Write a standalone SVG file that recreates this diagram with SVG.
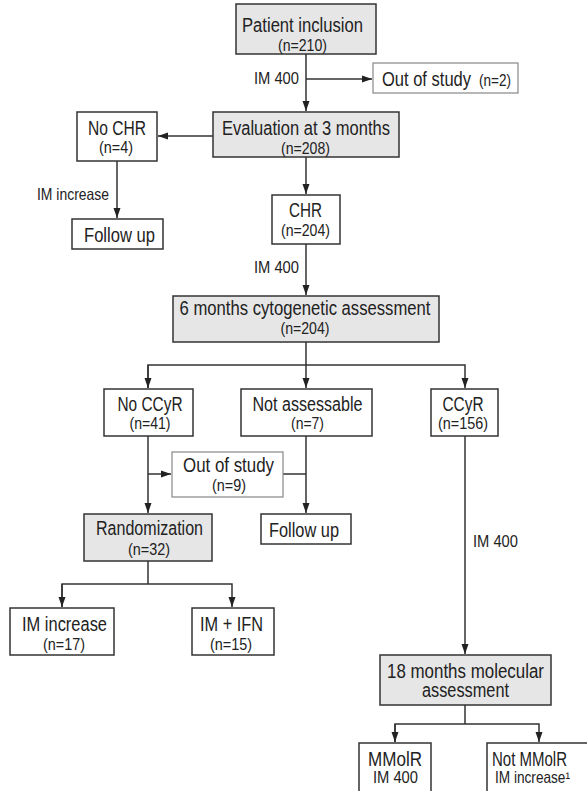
<svg xmlns="http://www.w3.org/2000/svg" width="587" height="791" viewBox="0 0 587 791" text-anchor="middle">
<defs>
<style>
.box{fill:#fff;stroke:#333;stroke-width:1.5}
.gray{fill:#e6e6e6;stroke:#333;stroke-width:1.5}
.light{fill:#fff;stroke:#888;stroke-width:1.2}
text{font-family:"Liberation Sans Narrow","Liberation Sans",Arial,sans-serif;fill:#222}
.big{font-size:20px}
.small{font-size:16.5px}
.lbl{font-size:16.5px}
.c{fill:none;stroke:#333;stroke-width:1.5}
</style>
<marker id="ah" markerUnits="userSpaceOnUse" markerWidth="10" markerHeight="10" viewBox="0 0 10 10" refX="10" refY="5" orient="auto">
<path d="M0,1.5 L10,5 L0,8.5 Z" fill="#222"/>
</marker>
</defs>
<rect width="587" height="791" fill="#fff"/>
<g id="connectors">
<path class="c" d="M306,54 V111" marker-end="url(#ah)"/>
<path class="c" d="M306,79 H372" marker-end="url(#ah)"/>
<path class="c" d="M213,136 H158" marker-end="url(#ah)"/>
<path class="c" d="M117,161 V218" marker-end="url(#ah)"/>
<path class="c" d="M306,157 V194" marker-end="url(#ah)"/>
<path class="c" d="M306,244 V295" marker-end="url(#ah)"/>
<path class="c" d="M306,342 V388" marker-end="url(#ah)"/>
<path class="c" d="M148,388 V365 H465 V388" marker-end="url(#ah)"/>
<path class="c" d="M148,365 V388" marker-end="url(#ah)"/>
<path class="c" d="M148,436 V513" marker-end="url(#ah)"/>
<path class="c" d="M148,474 H171" marker-end="url(#ah)"/>
<path class="c" d="M306,436 V513" marker-end="url(#ah)"/>
<path class="c" d="M283,474 H306"/>
<path class="c" d="M148,561 V584"/>
<path class="c" d="M62,607 V584 H232 V607" marker-end="url(#ah)"/>
<path class="c" d="M62,584 V607" marker-end="url(#ah)"/>
<path class="c" d="M465,436 V654" marker-end="url(#ah)"/>
<path class="c" d="M465,705 V724"/>
<path class="c" d="M395,742 V724 H539 V742" marker-end="url(#ah)"/>
<path class="c" d="M395,724 V742" marker-end="url(#ah)"/>
</g>
<g id="labels">
<text class="lbl" x="299" y="84" text-anchor="end" textLength="45" lengthAdjust="spacingAndGlyphs">IM 400</text>
<text class="lbl" x="109" y="200" text-anchor="end" textLength="72" lengthAdjust="spacingAndGlyphs">IM increase</text>
<text class="lbl" x="299" y="273" text-anchor="end" textLength="45" lengthAdjust="spacingAndGlyphs">IM 400</text>
<text class="lbl" x="473" y="547" text-anchor="start" textLength="45" lengthAdjust="spacingAndGlyphs">IM 400</text>
</g>
<g id="patient-inclusion">
<rect class="gray" x="236" y="4" width="140" height="50"/>
<text class="big" x="302.5" y="32" textLength="121" lengthAdjust="spacingAndGlyphs">Patient inclusion</text>
<text class="small" x="302.5" y="51" textLength="49" lengthAdjust="spacingAndGlyphs">(n=210)</text>
</g>
<g id="out-of-study-1">
<rect class="light" x="373" y="63" width="145" height="30"/>
<text class="big" x="382" y="86" text-anchor="start" textLength="89" lengthAdjust="spacingAndGlyphs">Out of study</text>
<text class="small" x="479" y="86" text-anchor="start" textLength="32" lengthAdjust="spacingAndGlyphs">(n=2)</text>
</g>
<g id="evaluation">
<rect class="gray" x="213" y="112" width="186" height="45"/>
<text class="big" x="306" y="135" textLength="168" lengthAdjust="spacingAndGlyphs">Evaluation at 3 months</text>
<text class="small" x="305.5" y="154" textLength="49" lengthAdjust="spacingAndGlyphs">(n=208)</text>
</g>
<g id="no-chr">
<rect class="box" x="77" y="112" width="80" height="49"/>
<text class="big" x="117" y="135" textLength="58" lengthAdjust="spacingAndGlyphs">No CHR</text>
<text class="small" x="116" y="153" textLength="34" lengthAdjust="spacingAndGlyphs">(n=4)</text>
</g>
<g id="follow-up-1">
<rect class="box" x="72" y="219" width="91" height="30"/>
<text class="big" x="119.5" y="242" textLength="71" lengthAdjust="spacingAndGlyphs">Follow up</text>
</g>
<g id="chr">
<rect class="box" x="272" y="195" width="68" height="49"/>
<text class="big" x="305.5" y="217" textLength="33" lengthAdjust="spacingAndGlyphs">CHR</text>
<text class="small" x="305.5" y="236" textLength="49" lengthAdjust="spacingAndGlyphs">(n=204)</text>
</g>
<g id="six-months">
<rect class="gray" x="173" y="296" width="266" height="46"/>
<text class="big" x="305" y="315" textLength="251" lengthAdjust="spacingAndGlyphs">6 months cytogenetic assessment</text>
<text class="small" x="305" y="334" textLength="49" lengthAdjust="spacingAndGlyphs">(n=204)</text>
</g>
<g id="no-ccyr">
<rect class="box" x="104" y="389" width="89" height="47"/>
<text class="big" x="150" y="411" textLength="65" lengthAdjust="spacingAndGlyphs">No CCyR</text>
<text class="small" x="150" y="429" textLength="41" lengthAdjust="spacingAndGlyphs">(n=41)</text>
</g>
<g id="not-assessable">
<rect class="box" x="241" y="389" width="131" height="47"/>
<text class="big" x="307.5" y="411" textLength="110" lengthAdjust="spacingAndGlyphs">Not assessable</text>
<text class="small" x="307.5" y="429" textLength="33" lengthAdjust="spacingAndGlyphs">(n=7)</text>
</g>
<g id="ccyr">
<rect class="box" x="431" y="389" width="67" height="47"/>
<text class="big" x="463" y="411" textLength="41" lengthAdjust="spacingAndGlyphs">CCyR</text>
<text class="small" x="463" y="429" textLength="50" lengthAdjust="spacingAndGlyphs">(n=156)</text>
</g>
<g id="out-of-study-2">
<rect class="light" x="172" y="452" width="111" height="45"/>
<text class="big" x="228.5" y="472" textLength="91" lengthAdjust="spacingAndGlyphs">Out of study</text>
<text class="small" x="229" y="491" textLength="34" lengthAdjust="spacingAndGlyphs">(n=9)</text>
</g>
<g id="follow-up-2">
<rect class="box" x="261" y="514" width="90" height="30"/>
<text class="big" x="304" y="537" textLength="70" lengthAdjust="spacingAndGlyphs">Follow up</text>
</g>
<g id="randomization">
<rect class="gray" x="84" y="514" width="128" height="47"/>
<text class="big" x="149.5" y="535" textLength="107" lengthAdjust="spacingAndGlyphs">Randomization</text>
<text class="small" x="149" y="555" textLength="42" lengthAdjust="spacingAndGlyphs">(n=32)</text>
</g>
<g id="im-increase">
<rect class="box" x="10" y="608" width="104" height="47"/>
<text class="big" x="64.5" y="631" textLength="85" lengthAdjust="spacingAndGlyphs">IM increase</text>
<text class="small" x="64" y="650" textLength="42" lengthAdjust="spacingAndGlyphs">(n=17)</text>
</g>
<g id="im-ifn">
<rect class="box" x="192" y="608" width="82" height="47"/>
<text class="big" x="231.5" y="631" textLength="63" lengthAdjust="spacingAndGlyphs">IM + IFN</text>
<text class="small" x="231" y="650" textLength="42" lengthAdjust="spacingAndGlyphs">(n=15)</text>
</g>
<g id="eighteen-months">
<rect class="gray" x="380" y="655" width="171" height="50"/>
<text class="big" x="465.5" y="678" textLength="157" lengthAdjust="spacingAndGlyphs">18 months molecular</text>
<text class="big" x="465.5" y="697" textLength="87" lengthAdjust="spacingAndGlyphs">assessment</text>
</g>
<g id="mmolr">
<rect class="box" x="359" y="743" width="72" height="60"/>
<text class="big" x="395" y="766" textLength="54" lengthAdjust="spacingAndGlyphs">MMolR</text>
<text class="small" x="395.5" y="783" textLength="45" lengthAdjust="spacingAndGlyphs">IM 400</text>
</g>
<g id="not-mmolr">
<rect class="box" x="487" y="743" width="110" height="60"/>
<text class="big" x="492" y="766" text-anchor="start" textLength="75" lengthAdjust="spacingAndGlyphs">Not MMolR</text>
<text class="small" x="495" y="783" text-anchor="start" textLength="75" lengthAdjust="spacingAndGlyphs">IM increase¹</text>
</g>
</svg>
